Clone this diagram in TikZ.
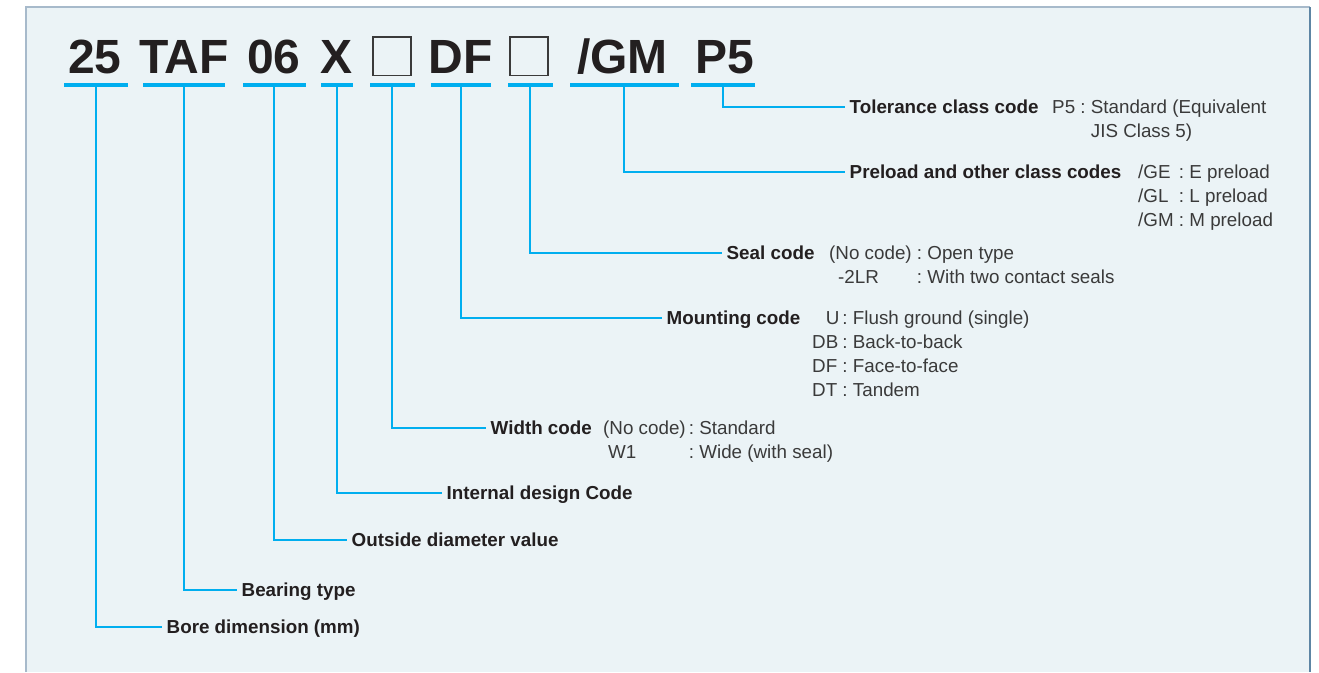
\documentclass[tikz,border=0pt]{standalone}
\usepackage{fontspec}
\setmainfont{Liberation Sans}
\usetikzlibrary{positioning}
\definecolor{codeblue}{HTML}{00AEEF}
\definecolor{panelbg}{HTML}{EBF3F6}
\definecolor{edgelight}{HTML}{A7BACB}
\definecolor{edgedark}{HTML}{5D85A4}
\definecolor{inkdark}{HTML}{231F20}
\definecolor{inkgray}{HTML}{3A3A3A}
\tikzset{
  codetext/.style={font=\fontsize{48}{50}\selectfont\bfseries, text=inkdark, inner sep=0},
  codebox/.style={draw=inkgray, line width=1.6, minimum width=38, minimum height=38.5, inner sep=0},
  uline/.style={fill=codeblue, minimum height=3.5, inner sep=0},
  leader/.style={draw=codeblue, line width=1.6},
  title/.style={font=\fontsize{18.8}{24}\selectfont\bfseries, text=inkdark, text height=13, text depth=0, inner ysep=0, inner xsep=4.5},
  detail/.style={font=\fontsize{18.8}{24}\selectfont, text=inkgray, inner sep=0, anchor=base west},
}
\begin{document}
\begin{tikzpicture}[x=1pt,y=-1pt]
	\useasboundingbox (0,0) rectangle (1319,672);
	% panel
	\fill[panelbg] (26,7) rectangle (1310,672);
	\draw[edgelight, line width=1.5] (26,672) -- (26,7) -- (1310,7);
	\draw[edgedark, line width=2] (1310,7) -- (1310,672);
	% code letters
	\node[codetext, anchor=base] (c25) at (95,73.5) {25};
	\node[codetext, anchor=base] (ctaf) at (184,73.5) {TAF};
	\node[codetext, anchor=base] (c06) at (274,73.5) {06};
	\node[codetext, anchor=base] (cx) at (337,73.5) {X};
	\node[codebox] (cbox1) at (392,56.4) {};
	\node[codetext, anchor=base] (cdf) at (460.5,73.5) {DF};
	\node[codebox] (cbox2) at (529,56.4) {};
	\node[codetext, anchor=base] (cgm) at (622.5,73.5) {/GM};
	\node[codetext, anchor=base] (cp5) at (725,73.5) {P5};
	% underlines
	\node[uline, minimum width=64] (u25) at (96,85) {};
	\node[uline, minimum width=82] (utaf) at (184,85) {};
	\node[uline, minimum width=63] (u06) at (274,85) {};
	\node[uline, minimum width=32] (ux) at (337,85) {};
	\node[uline, minimum width=45] (ubox1) at (392,85) {};
	\node[uline, minimum width=60] (udf) at (461,85) {};
	\node[uline, minimum width=45] (ubox2) at (530,85) {};
	\node[uline, minimum width=109] (ugm) at (624,85) {};
	\node[uline, minimum width=64] (up5) at (723,85) {};
	% titles
	\node[title, anchor=west] (tol) at (845,107) {Tolerance class code};
	\node[title, anchor=west] (pre) at (845,172) {Preload and other class codes};
	\node[title, anchor=west] (seal) at (722,253) {Seal code};
	\node[title, anchor=west] (mount) at (662,318) {Mounting code};
	\node[title, anchor=west] (wid) at (486,428) {Width code};
	\node[title, anchor=west] (idc) at (442,493) {Internal design Code};
	\node[title, anchor=west] (od) at (347,540) {Outside diameter value};
	\node[title, anchor=west] (btype) at (237,590) {Bearing type};
	\node[title, anchor=west] (bore) at (162,627) {Bore dimension (mm)};
	% details
	\node[detail] (told) at (1052,113.5) {\begin{tabular}[t]{@{}l@{\ :\ }l@{}}P5 & Standard (Equivalent\\ \multicolumn{2}{@{}l@{}}{\hphantom{P5\ :\ }JIS Class 5)}\end{tabular}};
	\node[detail] (pred) at (1138,178.5) {\begin{tabular}[t]{@{}l@{\ :\ }l@{}}/GE & E preload\\ /GL & L preload\\ /GM & M preload\end{tabular}};
	\node[detail] (seald) at (829,259.5) {\begin{tabular}[t]{@{}l@{\ :\ }l@{}}(No code) & Open type\\ \hspace{9pt}-2LR & With two contact seals\end{tabular}};
	\node[detail] (mountd) at (812,324.5) {\begin{tabular}[t]{@{}l@{\,:\ }l@{}}\hphantom{D}U & Flush ground (single)\\ DB & Back-to-back\\ DF & Face-to-face\\ DT & Tandem\end{tabular}};
	\node[detail] (widd) at (603,434.5) {\begin{tabular}[t]{@{}l@{\,:\ }l@{}}(No code) & Standard\\ \hspace{5pt}W1 & Wide (with seal)\end{tabular}};
	% leaders
	\draw[leader] (up5.south) |- (tol.west);
	\draw[leader] (ugm.south) |- (pre.west);
	\draw[leader] (ubox2.south) |- (seal.west);
	\draw[leader] (udf.south) |- (mount.west);
	\draw[leader] (ubox1.south) |- (wid.west);
	\draw[leader] (ux.south) |- (idc.west);
	\draw[leader] (u06.south) |- (od.west);
	\draw[leader] (utaf.south) |- (btype.west);
	\draw[leader] (u25.south) |- (bore.west);
\end{tikzpicture}
\end{document}
